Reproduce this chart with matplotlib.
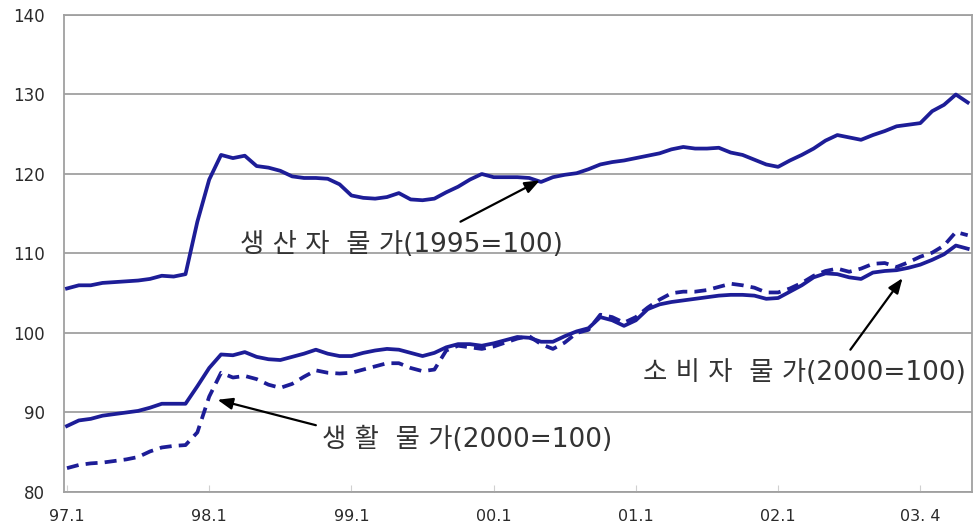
import numpy as np
import matplotlib
matplotlib.use("Agg")
import matplotlib.pyplot as plt

plt.rcParams["font.family"] = ["Noto Sans CJK KR", "DejaVu Sans"]

NAVY = "#1d1d97"
GRIDC = "#a0a0a0"
INK = "#2a2a2a"

# monthly index 0 = 97.1 ... 76 = 03.5
producer = [105.6, 106.0, 106.0, 106.3, 106.4, 106.5, 106.6, 106.8, 107.2, 107.1,
            107.4, 114.0, 119.3, 122.4, 122.0, 122.3, 121.0, 120.8, 120.4, 119.7,
            119.5, 119.5, 119.4, 118.7, 117.3, 117.0, 116.9, 117.1, 117.6, 116.8,
            116.7, 116.9, 117.7, 118.4, 119.3, 120.0, 119.6, 119.6, 119.6, 119.5,
            119.0, 119.6, 119.9, 120.1, 120.6, 121.2, 121.5, 121.7, 122.0, 122.3,
            122.6, 123.1, 123.4, 123.2, 123.2, 123.3, 122.7, 122.4, 121.8, 121.2,
            120.9, 121.7, 122.4, 123.2, 124.2, 124.9, 124.6, 124.3, 124.9, 125.4,
            126.0, 126.2, 126.4, 127.9, 128.7, 130.0, 129.0]
consumer = [88.3, 89.0, 89.2, 89.6, 89.8, 90.0, 90.2, 90.6, 91.1, 91.1,
            91.1, 93.3, 95.6, 97.3, 97.2, 97.6, 97.0, 96.7, 96.6, 97.0,
            97.4, 97.9, 97.4, 97.1, 97.1, 97.5, 97.8, 98.0, 97.9, 97.5,
            97.1, 97.5, 98.2, 98.6, 98.6, 98.4, 98.7, 99.1, 99.5, 99.4,
            98.9, 98.9, 99.6, 100.2, 100.6, 102.0, 101.6, 100.9, 101.6, 103.0,
            103.6, 103.9, 104.1, 104.3, 104.5, 104.7, 104.8, 104.8, 104.7, 104.3,
            104.4, 105.2, 106.0, 107.0, 107.5, 107.4, 107.0, 106.8, 107.6, 107.8,
            107.9, 108.2, 108.6, 109.2, 109.9, 111.0, 110.6]
living = [83.0, 83.4, 83.6, 83.7, 83.9, 84.1, 84.4, 85.1, 85.6, 85.8,
          85.9, 87.5, 92.0, 95.0, 94.4, 94.6, 94.2, 93.5, 93.1, 93.6,
          94.5, 95.3, 95.0, 94.9, 95.0, 95.4, 95.8, 96.2, 96.2, 95.6,
          95.2, 95.4, 97.8, 98.4, 98.2, 98.0, 98.3, 98.8, 99.3, 99.6,
          98.6, 98.0, 98.8, 100.0, 100.4, 102.3, 102.0, 101.3, 102.0, 103.2,
          104.2, 105.0, 105.2, 105.2, 105.4, 105.8, 106.2, 106.0, 105.7, 105.1,
          105.1, 105.6, 106.3, 107.2, 107.8, 108.1, 107.7, 108.1, 108.7, 108.8,
          108.3, 108.9, 109.6, 110.1, 111.0, 112.7, 112.3]

tick_pos = [0, 12, 24, 36, 48, 60, 72]
tick_labels = ["97.1", "98.1", "99.1", "00.1", "01.1", "02.1", "03. 4"]
y_ticks = [80, 90, 100, 110, 120, 130, 140]

months = np.arange(len(producer))

fig = plt.figure(figsize=(9.76, 5.30), dpi=100)
ax = fig.add_axes([0.0656, 0.0717, 0.9304, 0.9000])

for y in y_ticks:
    ax.axhline(y, color=GRIDC, lw=1.3, zorder=1)

ax.plot(months, producer, color=NAVY, lw=2.7, zorder=3, solid_joinstyle="round")
ax.plot(months, consumer, color=NAVY, lw=2.7, zorder=3, solid_joinstyle="round")
ax.plot(months, living, color=NAVY, lw=2.7, zorder=3, dashes=(3.2, 1.9))

ax.set_xlim(-0.25, 76.37)
ax.set_ylim(80, 140)
ax.set_yticks(y_ticks)
ax.set_yticklabels([str(v) for v in y_ticks], fontsize=12, color=INK,
                   family="DejaVu Sans")
ax.set_xticks(tick_pos)
ax.set_xticklabels(tick_labels, fontsize=11.5, color=INK, family="DejaVu Sans")
ax.tick_params(axis="y", length=0, pad=14)
ax.tick_params(axis="x", direction="in", length=5, color="#d0d0d0", pad=12)
for s in ax.spines.values():
    s.set_color(GRIDC)
    s.set_linewidth(1.3)

arrow = dict(arrowstyle="-|>,head_length=0.9,head_width=0.35", color="black",
             lw=1.6, shrinkA=0, shrinkB=0)
ax.annotate("", xy=(39.9, 119.2), xytext=(33.2, 114.0), arrowprops=arrow, zorder=5)
ax.annotate("", xy=(12.7, 91.6), xytext=(21.0, 88.4), arrowprops=arrow, zorder=5)
ax.annotate("", xy=(70.5, 106.9), xytext=(66.1, 97.9), arrowprops=arrow, zorder=5)

lab_font = ["DejaVu Sans", "Noto Sans CJK KR"]
ax.text(14.6, 111.1, "생 산 자  물 가(1995=100)", fontsize=19, color="#333333",
        va="center", ha="left", family=lab_font)
ax.text(21.5, 86.5, "생 활  물 가(2000=100)", fontsize=19, color="#333333",
        va="center", ha="left", family=lab_font)
ax.text(48.6, 95.0, "소 비 자  물 가(2000=100)", fontsize=19, color="#333333",
        va="center", ha="left", family=lab_font)

fig.savefig("out.png", dpi=100)
